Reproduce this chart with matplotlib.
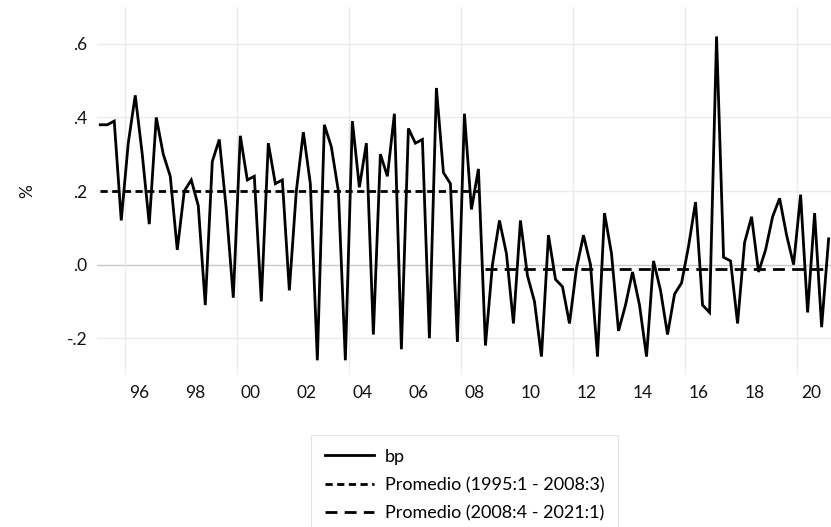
import numpy as np
import pandas as pd
import matplotlib
matplotlib.use('Agg')
import matplotlib.pyplot as plt
from matplotlib.lines import Line2D

plt.rcParams['font.family'] = ['Lato', 'DejaVu Sans']

# quarterly series bp, 1995:1 - 2021:1
quarters = pd.period_range('1995Q1', '2021Q1', freq='Q')
bp = [0.38, 0.38, 0.39, 0.12, 0.33, 0.46, 0.30, 0.11, 0.40, 0.30,
      0.24, 0.04, 0.20, 0.23, 0.16, -0.11, 0.28, 0.34, 0.15, -0.09,
      0.35, 0.23, 0.24, -0.10, 0.33, 0.22, 0.23, -0.07, 0.20, 0.36,
      0.22, -0.26, 0.38, 0.32, 0.20, -0.26, 0.39, 0.21, 0.33, -0.19,
      0.30, 0.24, 0.41, -0.23, 0.37, 0.33, 0.34, -0.20, 0.48, 0.25,
      0.22, -0.21, 0.41, 0.15, 0.26, -0.22, 0.00, 0.12, 0.03, -0.16,
      0.12, -0.03, -0.10, -0.25, 0.08, -0.04, -0.06, -0.16, -0.01, 0.08,
      0.00, -0.25, 0.14, 0.03, -0.18, -0.11, -0.02, -0.11, -0.25, 0.01,
      -0.07, -0.19, -0.08, -0.05, 0.05, 0.17, -0.11, -0.13, 0.62, 0.02,
      0.01, -0.16, 0.06, 0.13, -0.02, 0.04, 0.13, 0.18, 0.08, 0.00,
      0.19, -0.13, 0.14, -0.17, 0.07]
split = '2008Q3'   # last quarter of the first sub-period

xtick_years = [1996, 1998, 2000, 2002, 2004, 2006, 2008, 2010, 2012, 2014, 2016, 2018, 2020]
xtick_labels = ['96', '98', '00', '02', '04', '06', '08', '10', '12', '14', '16', '18', '20']
ytick_vals = [-0.2, 0.0, 0.2, 0.4, 0.6]
ytick_labels = ['-.2', '.0', '.2', '.4', '.6']
leg_labels = ['bp', 'Promedio (1995:1 - 2008:3)', 'Promedio (2008:4 - 2021:1)']

# x position = middle of each quarter
t = np.array([p.year + (p.quarter - 0.5) / 4 for p in quarters])
bp = np.array(bp)
first = np.array([p <= pd.Period(split, 'Q') for p in quarters])
m1 = bp[first].mean()
m2 = bp[~first].mean()

fig = plt.figure(figsize=(8.31, 5.27), dpi=100)
ax = fig.add_axes([0.1164, 0.2884, 0.8836, 0.6983])

# grid: horizontal at ticks, vertical every 4 years at year start
for v in ytick_vals:
    ax.axhline(v, color='#c8c8c8' if v == 0 else '#ebebeb', lw=1.0, zorder=0)
for yr in xtick_years[::2]:
    ax.axvline(yr, color='#ebebeb', lw=1.0, zorder=0)

l1, = ax.plot(t, bp, color='black', lw=2.0, solid_joinstyle='miter')
l2, = ax.plot(t[first], np.full(first.sum(), m1), color='black', lw=2.0, dashes=(2.6, 1.6))
l3, = ax.plot(t[~first], np.full((~first).sum(), m2), color='black', lw=2.0, dashes=(4.3, 2.6))

ax.set_xlim(1995.0, 2021.21)
ax.set_ylim(-0.3, 0.7)
ax.set_xticks([y + 0.5 for y in xtick_years])
ax.set_xticklabels(xtick_labels)
ax.set_yticks(ytick_vals)
ax.set_yticklabels(ytick_labels)
ax.tick_params(axis='both', length=0, labelsize=12.5, colors='#111111')
ax.tick_params(axis='x', pad=7)
ax.tick_params(axis='y', pad=7)
for s in ax.spines.values():
    s.set_visible(False)

fig.text(27 / 831, 1 - 191 / 527, '%', rotation=90, ha='center', va='center', fontsize=12.5, color='#111111')

h1 = Line2D([], [], color='black', lw=2.0)
h2 = Line2D([], [], color='black', lw=2.0, dashes=(2.6, 1.6))
h3 = Line2D([], [], color='black', lw=2.0, dashes=(4.3, 2.6))
leg = fig.legend([h1, h2, h3], leg_labels, loc='upper left',
                 bbox_to_anchor=(311 / 831, 1 - 435 / 527), frameon=True, fancybox=False,
                 edgecolor='#dddddd', fontsize=13, handlelength=2.75, handletextpad=0.6,
                 borderpad=0.75, labelspacing=0.68, borderaxespad=0)
leg.get_frame().set_linewidth(0.8)

fig.savefig('out.png', dpi=100)
